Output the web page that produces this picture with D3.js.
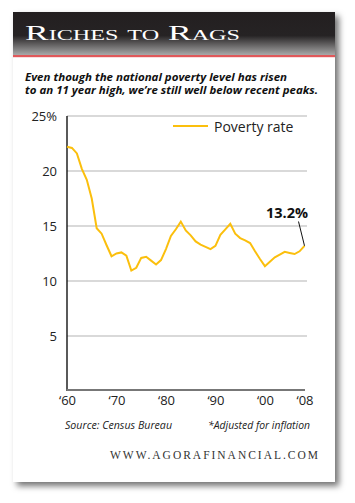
<!DOCTYPE html>
<html>
<head>
<meta charset="utf-8">
<script src="https://cdn.jsdelivr.net/npm/d3@7"></script>
<style>
  html, body { margin: 0; padding: 0; background: #fff; }
  svg { display: block; }
</style>
</head>
<body>
<svg id="chart" width="355" height="503"></svg>
<script>
const years = [1960,1961,1962,1963,1964,1965,1966,1967,1968,1969,
               1970,1971,1972,1973,1974,1975,1976,1977,1978,1979,
               1980,1981,1982,1983,1984,1985,1986,1987,1988,1989,
               1990,1991,1992,1993,1994,1995,1996,1997,1998,1999,
               2000,2001,2002,2003,2004,2005,2006,2007,2008];
const povertyRate = [22.2,22.1,21.6,20.2,19.2,17.5,14.8,14.3,13.25,12.25,
                     12.5,12.6,12.3,10.95,11.2,12.1,12.2,11.85,11.5,11.9,
                     12.9,14.1,14.7,15.4,14.6,14.15,13.6,13.3,13.1,12.9,
                     13.2,14.2,14.7,15.2,14.3,13.9,13.7,13.45,12.7,12.0,
                     11.35,11.75,12.15,12.4,12.65,12.55,12.45,12.7,13.2];
const yTicks = [5,10,15,20,25];
const xTickYears = [1960,1970,1980,1990,2000,2008];
const xTickLabels = ["\u201860","\u201870","\u201880","\u201890","\u201800","\u201808"];

const svg = d3.select("#chart");
const defs = svg.append("defs");

const shadow = defs.append("filter").attr("id","shadow")
  .attr("x","-10%").attr("y","-10%").attr("width","125%").attr("height","125%");
shadow.append("feDropShadow").attr("dx",4).attr("dy",4).attr("stdDeviation",3)
  .attr("flood-color","#000").attr("flood-opacity",0.55);

const grad = defs.append("linearGradient").attr("id","hdr")
  .attr("x1",0).attr("y1",0).attr("x2",0).attr("y2",1);
grad.append("stop").attr("offset","0%").attr("stop-color","#231f20");
grad.append("stop").attr("offset","55%").attr("stop-color","#262324");
grad.append("stop").attr("offset","100%").attr("stop-color","#a8a8a8");

// card
svg.append("rect").attr("x",13).attr("y",12).attr("width",322).attr("height",470)
  .attr("fill","#fff").attr("filter","url(#shadow)");
svg.append("rect").attr("x",13).attr("y",12).attr("width",322).attr("height",43)
  .attr("fill","url(#hdr)");
svg.append("rect").attr("x",13).attr("y",55).attr("width",322).attr("height",2.2)
  .attr("fill","#e0585a");

svg.append("text").attr("x",25).attr("y",39.5)
  .attr("font-family","'Liberation Serif','DejaVu Serif',serif")
  .attr("font-size",22).attr("fill","#fff")
  .style("font-variant","small-caps")
  .attr("textLength",215).attr("lengthAdjust","spacingAndGlyphs")
  .text("Riches to Rags");

const sub = svg.append("g")
  .attr("font-family","'Open Sans','Noto Sans',sans-serif")
  .attr("font-weight","bold").attr("font-style","italic")
  .attr("font-size",10.8).attr("fill","#111")
  .style("white-space","pre");
sub.append("text").attr("x",25).attr("y",80.5)
  .attr("textLength",262).attr("lengthAdjust","spacingAndGlyphs")
  .text("Even though the national poverty level has risen");
sub.append("text").attr("x",25).attr("y",94)
  .attr("textLength",293).attr("lengthAdjust","spacingAndGlyphs")
  .text("to an 11 year high, we\u2019re still well below  recent peaks.");

// scales
const x = d3.scaleLinear().domain([1960,2008]).range([67,304.5]);
const y = d3.scaleLinear().domain([0,25]).range([391,116]);

// grid
svg.append("g").selectAll("line").data(yTicks).join("line")
  .attr("x1",67).attr("x2",307)
  .attr("y1",d=>y(d)).attr("y2",d=>y(d))
  .attr("stroke","#b3b3b3").attr("stroke-width",1);

// y axis
const yAxis = svg.append("g").attr("transform","translate(67,0)")
  .call(d3.axisLeft(y).tickValues(yTicks).tickSize(0).tickPadding(10)
        .tickFormat(d => d===25 ? "25%" : d));
yAxis.select(".domain").remove();
yAxis.selectAll("text").attr("font-family","'Open Sans','Noto Sans',sans-serif")
  .attr("font-size",13).attr("fill","#222").attr("dy","0.35em");
svg.append("line").attr("x1",67).attr("x2",67).attr("y1",116).attr("y2",391)
  .attr("stroke","#000").attr("stroke-width",1.3);

// x axis
const xAxis = svg.append("g").attr("transform","translate(0,390)")
  .call(d3.axisBottom(x).tickValues(xTickYears).tickSize(0).tickPadding(6)
        .tickFormat((d,i)=>xTickLabels[i]));
xAxis.select(".domain").remove();
xAxis.selectAll("text").attr("font-family","'Open Sans','Noto Sans',sans-serif")
  .attr("font-size",13).attr("fill","#222");
svg.append("line").attr("x1",66.5).attr("x2",305).attr("y1",390).attr("y2",390)
  .attr("stroke","#777").attr("stroke-width",2);

// line
const pts = years.map((d,i)=>[d,povertyRate[i]]);
svg.append("path").datum(pts)
  .attr("fill","none").attr("stroke","#fbbf0d").attr("stroke-width",2)
  .attr("stroke-linejoin","miter")
  .attr("d", d3.line().x(d=>x(d[0])).y(d=>y(d[1])));

// legend
svg.append("line").attr("x1",173).attr("x2",208).attr("y1",126).attr("y2",126)
  .attr("stroke","#fbbf0d").attr("stroke-width",2);
svg.append("text").attr("x",214).attr("y",131.5)
  .attr("font-family","'Open Sans','Noto Sans',sans-serif")
  .attr("font-size",14).attr("fill","#222").text("Poverty rate");

// annotation
const last = pts[pts.length-1];
svg.append("text").attr("x",308).attr("y",218).attr("text-anchor","end")
  .attr("font-family","'Open Sans','Noto Sans',sans-serif")
  .attr("font-weight","bold").attr("font-size",14.5).attr("fill","#111")
  .text("13.2%");
svg.append("line").attr("x1",298.5).attr("y1",221.5)
  .attr("x2",x(last[0])).attr("y2",y(last[1]))
  .attr("stroke","#111").attr("stroke-width",1);

// footer
const foot = svg.append("g").attr("font-family","'Open Sans','Noto Sans',sans-serif")
  .attr("font-style","italic").attr("font-size",10.5).attr("fill","#222");
foot.append("text").attr("x",65).attr("y",429)
  .attr("textLength",107).attr("lengthAdjust","spacingAndGlyphs").text("Source: Census Bureau");
foot.append("text").attr("x",208).attr("y",429)
  .attr("textLength",102).attr("lengthAdjust","spacingAndGlyphs").text("*Adjusted for inflation");

svg.append("text").attr("x",110).attr("y",459)
  .attr("font-family","'Liberation Serif','DejaVu Serif',serif")
  .attr("font-size",11.5).attr("fill","#333")
  .attr("textLength",208).attr("lengthAdjust","spacing")
  .text("WWW.AGORAFINANCIAL.COM");
</script>
</body>
</html>
